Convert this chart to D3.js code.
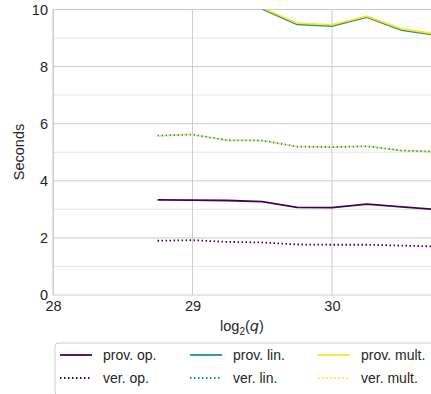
<!DOCTYPE html>
<html>
<head>
<meta charset="utf-8">
<script src="https://cdn.jsdelivr.net/npm/d3@7"></script>
<style>
  body { margin: 0; background: #fff; }
  text { font-family: "Liberation Sans", Arial, sans-serif; fill: #262626; }
</style>
</head>
<body>
<svg id="chart" width="431" height="394"></svg>
<script>
// data
const logQ = [28.75, 29, 29.25, 29.5, 29.75, 30, 30.25, 30.5, 30.75];
const provOp   = [3.33, 3.32, 3.31, 3.27, 3.07, 3.06, 3.18, 3.09, 2.99];
const verOp    = [1.90, 1.92, 1.86, 1.84, 1.77, 1.76, 1.76, 1.73, 1.70];
const provLin  = [11.2, 11.0, 10.6, 10.02, 9.48, 9.42, 9.73, 9.28, 9.10];
const verLin   = [5.58, 5.62, 5.42, 5.41, 5.20, 5.18, 5.21, 5.06, 5.02];
const provMult = [11.24, 11.04, 10.64, 10.06, 9.52, 9.46, 9.77, 9.32, 9.14];
const verMult  = [5.58, 5.62, 5.42, 5.41, 5.20, 5.18, 5.21, 5.06, 5.02];
const yTicks = [0, 2, 4, 6, 8, 10];
const xTicks = [28, 29, 30];

const series = [
  {name: "prov. op.",   values: provOp,   color: "#440154", dash: null},
  {name: "ver. op.",    values: verOp,    color: "#440154", dash: "1.5,2.5"},
  {name: "prov. lin.",  values: provLin,  color: "#21918c", dash: null},
  {name: "ver. lin.",   values: verLin,   color: "#21918c", dash: "1.5,2.5"},
  {name: "prov. mult.", values: provMult, color: "#fde725", dash: null},
  {name: "ver. mult.",  values: verMult,  color: "#fde725", dash: "1.5,2.5", offset: 2}
];

const svg = d3.select("#chart");

const x = d3.scaleLinear().domain([28, 30.75]).range([53, 436.5]);
const y = d3.scaleLinear().domain([0, 10]).range([295, 9.5]);

svg.append("defs").append("clipPath").attr("id", "clip")
  .append("rect").attr("x", 53).attr("y", 9.5).attr("width", 400).attr("height", 285.5);

// grid
const grid = svg.append("g");
d3.range(1, 10, 2).forEach(v => {
  grid.append("line").attr("x1", 53).attr("x2", 431).attr("y1", y(v)).attr("y2", y(v))
    .attr("stroke", "#dedede").attr("stroke-width", 0.8);
});
yTicks.forEach(v => {
  grid.append("line").attr("x1", 53).attr("x2", 431).attr("y1", y(v)).attr("y2", y(v))
    .attr("stroke", "#cccccc").attr("stroke-width", 1);
});
xTicks.forEach(v => {
  grid.append("line").attr("x1", x(v)).attr("x2", x(v)).attr("y1", 9.5).attr("y2", 295)
    .attr("stroke", "#cccccc").attr("stroke-width", 1);
});

// axes (labels only, seaborn whitegrid look)
const yAxis = svg.append("g").attr("transform", "translate(53,0)")
  .call(d3.axisLeft(y).tickValues(yTicks).tickFormat(d3.format("d")).tickSize(0).tickPadding(5));
yAxis.select(".domain").attr("stroke", "#cccccc");
yAxis.selectAll("text").style("font-size", "14.5px").attr("fill", "#262626");

const xAxis = svg.append("g").attr("transform", "translate(0,295)")
  .call(d3.axisBottom(x).tickValues(xTicks).tickFormat(d3.format("d")).tickSize(0).tickPadding(6));
xAxis.select(".domain").remove();
xAxis.selectAll("text").style("font-size", "14.5px").attr("fill", "#262626");

// axis titles
svg.append("text").attr("transform", "translate(24,152) rotate(-90)")
  .attr("text-anchor", "middle").style("font-size", "14.5px").text("Seconds");
const xl = svg.append("text").attr("x", 242).attr("y", 331)
  .attr("text-anchor", "middle").style("font-size", "14.5px");
xl.append("tspan").text("log");
xl.append("tspan").attr("dy", 4).style("font-size", "10px").text("2");
xl.append("tspan").attr("dy", -4).text("(");
xl.append("tspan").style("font-style", "italic").style("font-family", "DejaVu Sans").text("q");
xl.append("tspan").text(")");

// lines
const line = d3.line().x((d, i) => x(logQ[i])).y(d => y(d));
const plot = svg.append("g").attr("clip-path", "url(#clip)");
series.forEach(s => {
  plot.append("path").datum(s.values)
    .attr("d", line)
    .attr("fill", "none")
    .attr("stroke", s.color)
    .attr("stroke-width", 1.8)
    .attr("stroke-dasharray", s.dash)
    .attr("stroke-dashoffset", s.offset || 0);
});

// legend
const lg = svg.append("g");
lg.append("rect").attr("x", 57).attr("y", 345).attr("width", 390).attr("height", 52)
  .attr("rx", 3).attr("fill", "#d9d9d9");
lg.append("rect").attr("x", 55).attr("y", 343).attr("width", 390).attr("height", 52)
  .attr("rx", 3).attr("fill", "#fff").attr("stroke", "#cccccc");
const colX = [60, 190, 318];
series.forEach((s, i) => {
  const cx = colX[Math.floor(i / 2)];
  const cy = i % 2 === 0 ? 355 : 378;
  lg.append("line").attr("x1", cx).attr("x2", cx + 32).attr("y1", cy).attr("y2", cy)
    .attr("stroke", s.color).attr("stroke-width", 1.8).attr("stroke-dasharray", s.dash);
  lg.append("text").attr("x", cx + 43).attr("y", cy + 5)
    .style("font-size", "14px").text(s.name);
});
</script>
</body>
</html>
